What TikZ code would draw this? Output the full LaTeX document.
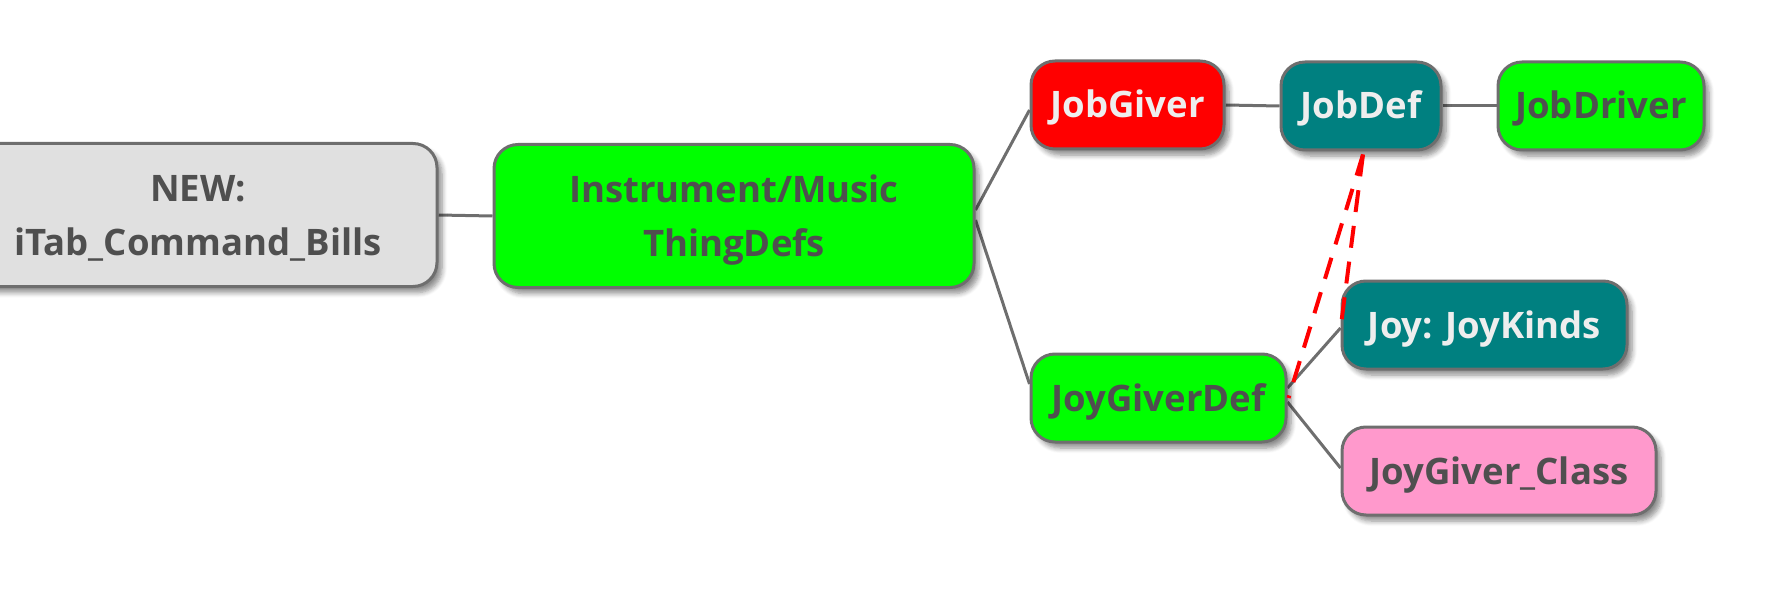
\documentclass[tikz,border=0pt]{standalone}
\usepackage{fontspec}
\setmainfont{Open Sans}
\usetikzlibrary{shadows.blur}
\definecolor{bordergray}{HTML}{6E6E6E}
\definecolor{txtdark}{HTML}{4F4F4F}
\definecolor{txtlight}{HTML}{EEEEEE}
\definecolor{boxgray}{HTML}{E0E0E0}
\definecolor{boxgreen}{HTML}{00FF00}
\definecolor{boxred}{HTML}{FF0000}
\definecolor{boxteal}{HTML}{008080}
\definecolor{boxpink}{HTML}{FF99CC}
\pgfdeclarelayer{background}
\pgfsetlayers{background,main}
\tikzset{
  mmbox/.style={draw=bordergray, line width=3pt, rounded corners=24pt,
    align=center, inner sep=0pt, text=txtdark,
    font=\fontsize{36.5}{53.3}\selectfont\bfseries,
    text height=26pt, text depth=0pt, minimum height=88pt,
    blur shadow={shadow xshift=5pt, shadow yshift=-6pt, shadow blur radius=5pt, shadow blur steps=6, shadow opacity=45}},
  twoline/.style={text height=80pt, text depth=0pt, minimum height=143pt},
  lightbox/.style={mmbox, text=txtlight},
  conn/.style={draw=bordergray, line width=3pt},
  reddash/.style={draw=boxred, line width=4pt, dash pattern=on 22pt off 14pt}
}
\begin{document}
\begin{tikzpicture}[x=1pt,y=-1pt]
\useasboundingbox (0,0) rectangle (1772,599);
\node[mmbox, twoline, fill=boxgray, minimum width=478pt] (new) at (198,215) {NEW:\\iTab\_Command\_Bills};
\node[mmbox, twoline, fill=boxgreen, minimum width=480pt] (inst) at (734,216) {Instrument/Music\\ThingDefs};
\node[lightbox, fill=boxred, minimum width=193pt] (jobgiver) at (1127.5,105) {JobGiver};
\node[lightbox, fill=boxteal, minimum width=160pt] (jobdef) at (1361,106) {JobDef};
\node[mmbox, fill=boxgreen, minimum width=206pt] (jobdriver) at (1601,106) {JobDriver};
\node[mmbox, fill=boxgreen, minimum width=255pt] (joygiverdef) at (1158.5,398) {JoyGiverDef};
\node[lightbox, fill=boxteal, minimum width=285pt] (joykinds) at (1484.5,325) {Joy: JoyKinds};
\node[mmbox, fill=boxpink, minimum width=314pt] (joyclass) at (1499,471) {JoyGiver\_Class};
\coordinate (dB) at (1341,325);
\begin{pgfonlayer}{background}
\draw[conn] (new.east) -- (inst.west);
\draw[conn] ([yshift=6pt]inst.east) -- ([yshift=-5pt]jobgiver.west);
\draw[conn] ([yshift=-4pt]inst.east) -- ([yshift=14pt]joygiverdef.west);
\draw[conn] (jobgiver.east) -- (jobdef.west);
\draw[conn] (jobdef.east) -- (jobdriver.west);
\draw[conn] ([yshift=10pt]joygiverdef.east) -- ([yshift=-3pt]joykinds.west);
\draw[conn] ([yshift=-4pt]joygiverdef.east) -- ([yshift=3pt]joyclass.west);
\end{pgfonlayer}
\draw[reddash] ([xshift=2pt,yshift=-3pt]jobdef.south) -- ([xshift=1pt]joygiverdef.east);
\draw[reddash] ([xshift=2pt,yshift=-3pt]jobdef.south) -- (dB);
\end{tikzpicture}
\end{document}
